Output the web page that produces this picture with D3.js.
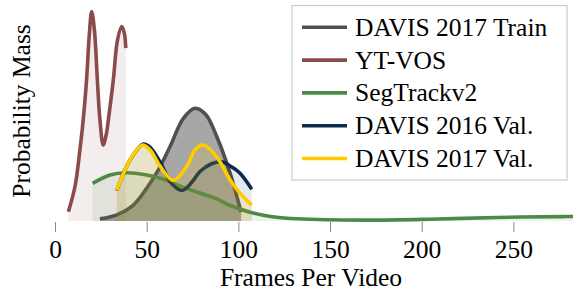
<!DOCTYPE html>
<html>
<head>
<meta charset="utf-8">
<script src="https://cdn.jsdelivr.net/npm/d3@7"></script>
<style>
  body { margin: 0; background: #fff; }
  svg text { font-family: "Liberation Serif", "DejaVu Serif", serif; fill: #000; }
</style>
</head>
<body>
<div id="chart"></div>
<script>
// values (frames per video, estimated density)
const trainX = [24.5, 33.7, 42.7, 50.0, 56.3, 62.7, 70.0, 76.4, 82.4, 88.2, 95.5, 101.5];
const trainY = [0.0005, 0.0014, 0.0036, 0.0074, 0.0115, 0.0168, 0.0232, 0.0255, 0.0240, 0.0191, 0.0108, 0.0020];

const ytvosX = [7.3, 10.9, 13.6, 15.4, 17.2, 18.7, 20.0, 21.5, 23.1, 24.5, 26.3, 28.1, 29.1, 31.8, 34.1, 36.4, 37.8, 38.6];
const ytvosY = [0.0021, 0.0078, 0.0161, 0.0229, 0.0319, 0.0421, 0.0474, 0.0432, 0.0319, 0.0229, 0.0172, 0.0199, 0.0229, 0.0319, 0.0410, 0.0440, 0.0425, 0.0391];

const segX = [20.5, 30.0, 39.1, 50.0, 57.3, 70.0, 88.2, 95.5, 106.4, 113.6, 122, 131.8, 168, 204.5, 241, 277, 286];
const segY = [0.0085, 0.0104, 0.0109, 0.0104, 0.0097, 0.0076, 0.0050, 0.0035, 0.0020, 0.0013, 0.0008, 0.0005, 0.0002, 0.0004, 0.0008, 0.0010, 0.0010];

const davis16X = [33.65, 40.9, 48.2, 51.8, 57.3, 63.8, 69.3, 74.7, 79.1, 85.1, 90.9, 96.5, 100.9, 107.3];
const davis16Y = [0.0069, 0.0138, 0.0174, 0.0167, 0.0133, 0.0084, 0.0069, 0.0088, 0.0112, 0.0129, 0.0134, 0.0122, 0.0108, 0.0072];

const davis17X = [33.65, 41.8, 47.7, 51.8, 57.3, 64.5, 71.8, 76.4, 80.9, 88.2, 95.5, 100.9, 107.3];
const davis17Y = [0.0070, 0.0145, 0.0172, 0.0161, 0.0124, 0.0092, 0.0123, 0.0161, 0.0172, 0.0145, 0.0093, 0.0063, 0.0036];

const seriesNames = ["DAVIS 2017 Train", "YT-VOS", "SegTrackv2", "DAVIS 2016 Val.", "DAVIS 2017 Val."];
const xTicks = [0, 50, 100, 150, 200, 250];

const colors = ["#505050", "#8c4b4b", "#4b8b47", "#0b2b4e", "#ffcc00"];
const fillAlpha = [0.5, 0.1, 0.1, 0.1, 0.15];

const series = [
  {x: trainX, y: trainY},
  {x: ytvosX, y: ytvosY},
  {x: segX, y: segY},
  {x: davis16X, y: davis16Y},
  {x: davis17X, y: davis17Y}
].map((s, i) => ({
  name: seriesNames[i],
  color: colors[i],
  alpha: fillAlpha[i],
  points: s.x.map((v, j) => ({x: v, y: s.y[j]}))
}));

const width = 573, height = 292;
const plot = {left: 55, right: 573, top: 0, bottom: 221};
const serif = '"Liberation Serif", "DejaVu Serif", serif';

const svg = d3.select('#chart').append('svg')
  .attr('width', width)
  .attr('height', height);

const xScale = d3.scaleLinear().domain([0, 282.5]).range([plot.left, plot.right]);
const yScale = d3.scaleLinear().domain([0, 0.05]).range([plot.bottom, plot.top]);

svg.append('defs').append('clipPath').attr('id', 'clip')
  .append('rect')
  .attr('x', 0).attr('y', 0)
  .attr('width', plot.right).attr('height', plot.bottom + 2);

const g = svg.append('g').attr('clip-path', 'url(#clip)');

const curve = d3.curveCatmullRom.alpha(0.5);

const area = d3.area()
  .x(d => xScale(d.x))
  .y0(yScale(0))
  .y1(d => yScale(d.y))
  .curve(curve);

const line = d3.line()
  .x(d => xScale(d.x))
  .y(d => yScale(d.y))
  .curve(curve);

series.forEach(s => {
  g.append('path')
    .attr('d', area(s.points))
    .attr('fill', s.color)
    .attr('fill-opacity', s.alpha);
  g.append('path')
    .attr('d', line(s.points))
    .attr('fill', 'none')
    .attr('stroke', s.color)
    .attr('stroke-width', 3.6);
});

// x axis: ticks only, no spine
const xAxis = d3.axisBottom(xScale)
  .tickValues(xTicks)
  .tickSize(10)
  .tickPadding(8);

const axisG = svg.append('g')
  .attr('transform', `translate(0,${plot.bottom + 1})`)
  .attr('font-family', serif)
  .attr('font-size', 25.5)
  .call(xAxis);
axisG.select('.domain').remove();
axisG.selectAll('.tick line').attr('stroke', '#888').attr('stroke-width', 1);
axisG.selectAll('.tick text')
  .attr('font-family', serif)
  .style('font-family', serif)
  .style('font-size', '25.5px')
  .attr('fill', '#000');

svg.append('text')
  .attr('x', 311)
  .attr('y', 286)
  .attr('text-anchor', 'middle')
  .style('font-size', '25.5px')
  .text('Frames Per Video');

svg.append('text')
  .attr('transform', 'translate(30,111) rotate(-90)')
  .attr('text-anchor', 'middle')
  .style('font-size', '25.5px')
  .text('Probability Mass');

// legend
const legend = svg.append('g');
legend.append('rect')
  .attr('x', 292)
  .attr('y', 5.5)
  .attr('width', 275)
  .attr('height', 174.5)
  .attr('fill', '#fff')
  .attr('fill-opacity', 0.8)
  .attr('stroke', '#cccccc')
  .attr('stroke-width', 1.2);

series.forEach((s, i) => {
  const ly = 27.3 + i * 32.8;
  legend.append('line')
    .attr('x1', 302).attr('x2', 347)
    .attr('y1', ly).attr('y2', ly)
    .attr('stroke', s.color)
    .attr('stroke-width', 3.6);
  legend.append('text')
    .attr('x', 355)
    .attr('y', ly + 8.5)
    .style('font-size', '25.5px')
    .text(s.name);
});
</script>
</body>
</html>
